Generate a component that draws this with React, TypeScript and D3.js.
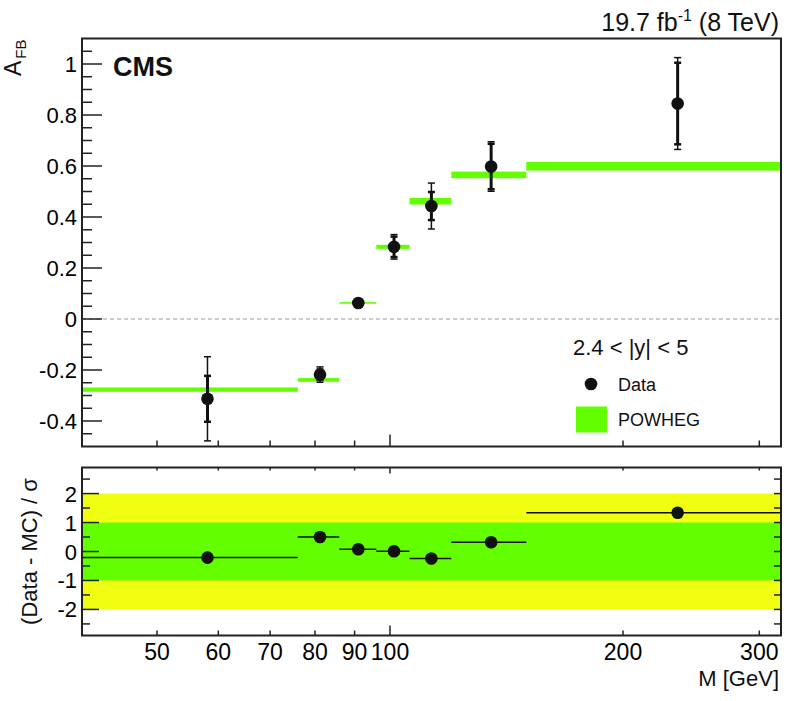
import React, { useEffect, useRef } from 'react';
import * as d3 from 'd3';

// bin edges in M [GeV]
const binEdges = [40, 76, 86, 96, 106, 120, 150, 320];
// data points
const dataMass = [58.1, 81.2, 91.0, 101.2, 113.1, 135.1, 235.3];
const dataAfb = [-0.313, -0.218, 0.063, 0.283, 0.443, 0.598, 0.845];
const statErr = [0.09, 0.02, 0.008, 0.04, 0.055, 0.089, 0.16];
const totErr = [0.165, 0.03, 0.01, 0.048, 0.09, 0.097, 0.18];
// POWHEG prediction per bin
const powhegAfb = [-0.277, -0.239, 0.063, 0.283, 0.462, 0.565, 0.599];
const powhegErr = [0.0085, 0.0073, 0.002, 0.008, 0.013, 0.013, 0.017];
// (Data - MC) / sigma
const pulls = [-0.21, 0.5, 0.08, 0.01, -0.24, 0.32, 1.34];

const xTickValues = [50, 60, 70, 80, 90, 100, 200, 300];
const topYTicks = [-0.4, -0.2, 0, 0.2, 0.4, 0.6, 0.8, 1];
const botYTicks = [-2, -1, 0, 1, 2];

const W = 786;
const H = 701;
const FONT = '"Liberation Sans", Arial, Helvetica, sans-serif';
const GREEN = '#63ff00';
const YELLOW = '#f0ff12';
const INK = '#111';

const App: React.FC = () => {
  const svgRef = useRef<SVGSVGElement | null>(null);

  useEffect(() => {
    const svg = d3.select(svgRef.current);
    svg.selectAll('*').remove();

    const left = 82, right = 781;
    const top1 = 38.5, bot1 = 446.5;
    const top2 = 467.5, bot2 = 635.5;

    const x = d3.scaleLog().domain([40, 320]).range([left, right]);
    const y1 = d3.scaleLinear().domain([-0.5, 1.1]).range([bot1, top1]);
    const y2 = d3.scaleLinear().domain([-2.9, 2.9]).range([bot2, top2]);

    const bins = d3.range(binEdges.length - 1).map(i => ({
      lo: binEdges[i],
      hi: binEdges[i + 1],
      mass: dataMass[i],
      afb: dataAfb[i],
      stat: statErr[i],
      tot: totErr[i],
      mc: powhegAfb[i],
      mcErr: powhegErr[i],
      pull: pulls[i],
    }));

    // ---------- top panel ----------
    const top = svg.append('g');

    // zero line
    top.append('line')
      .attr('x1', left).attr('x2', right)
      .attr('y1', y1(0)).attr('y2', y1(0))
      .attr('stroke', '#999').attr('stroke-width', 1)
      .attr('stroke-dasharray', '4,3');

    // POWHEG bands
    top.selectAll('rect.mc')
      .data(bins)
      .enter()
      .append('rect')
      .attr('class', 'mc')
      .attr('x', d => x(d.lo))
      .attr('width', d => x(d.hi) - x(d.lo))
      .attr('y', d => Math.min(y1(d.mc + d.mcErr), y1(d.mc) - 0.8))
      .attr('height', d => Math.max(y1(d.mc - d.mcErr) - y1(d.mc + d.mcErr), 1.6))
      .attr('fill', GREEN);

    // error bars
    const err = top.selectAll('g.err').data(bins).enter().append('g').attr('class', 'err');
    err.append('line')
      .attr('x1', d => x(d.mass)).attr('x2', d => x(d.mass))
      .attr('y1', d => y1(d.afb + d.tot)).attr('y2', d => y1(d.afb - d.tot))
      .attr('stroke', INK).attr('stroke-width', 1.5);
    [1, -1].forEach(s => {
      err.append('line')
        .attr('x1', d => x(d.mass) - 3.5).attr('x2', d => x(d.mass) + 3.5)
        .attr('y1', d => y1(d.afb + s * d.tot)).attr('y2', d => y1(d.afb + s * d.tot))
        .attr('stroke', INK).attr('stroke-width', 1.5);
    });
    err.append('line')
      .attr('x1', d => x(d.mass)).attr('x2', d => x(d.mass))
      .attr('y1', d => y1(d.afb + d.stat)).attr('y2', d => y1(d.afb - d.stat))
      .attr('stroke', INK).attr('stroke-width', 3);
    [1, -1].forEach(s => {
      err.append('line')
        .attr('x1', d => x(d.mass) - 3.5).attr('x2', d => x(d.mass) + 3.5)
        .attr('y1', d => y1(d.afb + s * d.stat)).attr('y2', d => y1(d.afb + s * d.stat))
        .attr('stroke', INK).attr('stroke-width', 2.5);
    });
    err.append('circle')
      .attr('cx', d => x(d.mass)).attr('cy', d => y1(d.afb))
      .attr('r', 6.3).attr('fill', INK);

    // frame
    top.append('rect')
      .attr('x', left).attr('y', top1)
      .attr('width', right - left).attr('height', bot1 - top1)
      .attr('fill', 'none').attr('stroke', '#222').attr('stroke-width', 2);

    // y ticks
    const minor1 = d3.range(-0.45, 1.1, 0.05).map(v => +v.toFixed(2));
    top.selectAll('line.ymin').data(minor1).enter().append('line')
      .attr('x1', left).attr('x2', d => left + (topYTicks.some(t => Math.abs(t - d) < 1e-6) ? 20 : 10))
      .attr('y1', d => y1(d)).attr('y2', d => y1(d))
      .attr('stroke', '#222').attr('stroke-width', 1.5);
    top.selectAll('text.ylab').data(topYTicks).enter().append('text')
      .attr('x', left - 5).attr('y', d => y1(d) + 8)
      .attr('text-anchor', 'end')
      .attr('font-family', FONT).attr('font-size', 22)
      .text(d => (d === 0 ? '0' : d === 1 ? '1' : d.toFixed(1)));

    // x ticks (bottom of top panel)
    top.selectAll('line.xt').data(xTickValues).enter().append('line')
      .attr('x1', d => x(d)).attr('x2', d => x(d))
      .attr('y1', bot1).attr('y2', d => bot1 - (d === 100 ? 12 : 6))
      .attr('stroke', '#222').attr('stroke-width', 1.5);

    // ---------- bottom panel ----------
    const bot = svg.append('g');
    bot.append('rect')
      .attr('x', left).attr('width', right - left)
      .attr('y', y2(2)).attr('height', y2(-2) - y2(2))
      .attr('fill', YELLOW);
    bot.append('rect')
      .attr('x', left).attr('width', right - left)
      .attr('y', y2(1)).attr('height', y2(-1) - y2(1))
      .attr('fill', GREEN);

    const pg = bot.selectAll('g.pull').data(bins).enter().append('g').attr('class', 'pull');
    pg.append('line')
      .attr('x1', d => x(d.lo)).attr('x2', d => x(d.hi))
      .attr('y1', d => y2(d.pull)).attr('y2', d => y2(d.pull))
      .attr('stroke', INK).attr('stroke-width', 1.5);
    pg.append('circle')
      .attr('cx', d => x(d.mass)).attr('cy', d => y2(d.pull))
      .attr('r', 6.3).attr('fill', INK);

    bot.append('rect')
      .attr('x', left).attr('y', top2)
      .attr('width', right - left).attr('height', bot2 - top2)
      .attr('fill', 'none').attr('stroke', '#222').attr('stroke-width', 2);

    const minor2 = d3.range(-2.5, 2.6, 0.5).map(v => +v.toFixed(1));
    bot.selectAll('line.yl').data(minor2).enter().append('line')
      .attr('x1', left).attr('x2', d => left + (Number.isInteger(d) ? 17 : 8))
      .attr('y1', d => y2(d)).attr('y2', d => y2(d))
      .attr('stroke', '#222').attr('stroke-width', 1.5);
    bot.selectAll('line.yr').data(minor2).enter().append('line')
      .attr('x1', right).attr('x2', right - 7)
      .attr('y1', d => y2(d)).attr('y2', d => y2(d))
      .attr('stroke', '#222').attr('stroke-width', 1.5);
    bot.selectAll('text.ylab').data(botYTicks).enter().append('text')
      .attr('x', left - 5).attr('y', d => y2(d) + 8)
      .attr('text-anchor', 'end')
      .attr('font-family', FONT).attr('font-size', 22)
      .text(d => String(d));

    bot.selectAll('line.xtt').data(xTickValues).enter().append('line')
      .attr('x1', d => x(d)).attr('x2', d => x(d))
      .attr('y1', top2).attr('y2', d => top2 + (d === 100 ? 6 : 3))
      .attr('stroke', '#222').attr('stroke-width', 1.5);
    bot.selectAll('line.xtb').data(xTickValues).enter().append('line')
      .attr('x1', d => x(d)).attr('x2', d => x(d))
      .attr('y1', bot2).attr('y2', d => bot2 - (d === 100 ? 10 : 5))
      .attr('stroke', '#222').attr('stroke-width', 1.5);
    bot.selectAll('text.xlab').data(xTickValues).enter().append('text')
      .attr('x', d => x(d)).attr('y', 660)
      .attr('text-anchor', 'middle')
      .attr('font-family', FONT).attr('font-size', 23)
      .text(d => String(d));

    // ---------- texts ----------
    const t = svg.append('g').attr('font-family', FONT).attr('fill', INK);
    const title = t.append('text')
      .attr('x', 779).attr('y', 31)
      .attr('text-anchor', 'end').attr('font-size', 25);
    title.append('tspan').text('19.7 fb');
    title.append('tspan').attr('font-size', 16).attr('dy', -10).text('-1');
    title.append('tspan').attr('dy', 10).text(' (8 TeV)');

    t.append('text')
      .attr('x', 113).attr('y', 76)
      .attr('font-size', 27).attr('font-weight', 'bold')
      .text('CMS');

    const afb = t.append('text')
      .attr('transform', `translate(21, ${top1 + 1}) rotate(-90)`)
      .attr('text-anchor', 'end').attr('font-size', 23);
    afb.append('tspan').text('A');
    afb.append('tspan').attr('font-size', 15).attr('dy', 5).attr('dx', 2).text('FB');

    t.append('text')
      .attr('transform', `translate(37, ${(top2 + bot2) / 2}) rotate(-90)`)
      .attr('text-anchor', 'middle').attr('font-size', 22)
      .text('(Data - MC) / σ');

    t.append('text')
      .attr('x', 779).attr('y', 686)
      .attr('text-anchor', 'end').attr('font-size', 22)
      .text('M [GeV]');

    // legend
    t.append('text')
      .attr('x', 573).attr('y', 355)
      .attr('font-size', 22)
      .text('2.4 < |y| < 5');
    t.append('circle').attr('cx', 591).attr('cy', 384).attr('r', 6.3).attr('fill', INK);
    t.append('text').attr('x', 618).attr('y', 391).attr('font-size', 18).text('Data');
    t.append('rect')
      .attr('x', 576).attr('y', 406.5).attr('width', 31).attr('height', 26)
      .attr('fill', GREEN);
    t.append('text').attr('x', 618).attr('y', 426).attr('font-size', 18).text('POWHEG');
  }, []);

  return (
    <svg
      ref={svgRef}
      width={W}
      height={H}
      viewBox={`0 0 ${W} ${H}`}
      style={{ position: 'absolute', left: 0, top: 0, background: '#fff' }}
    />
  );
};

export default App;
